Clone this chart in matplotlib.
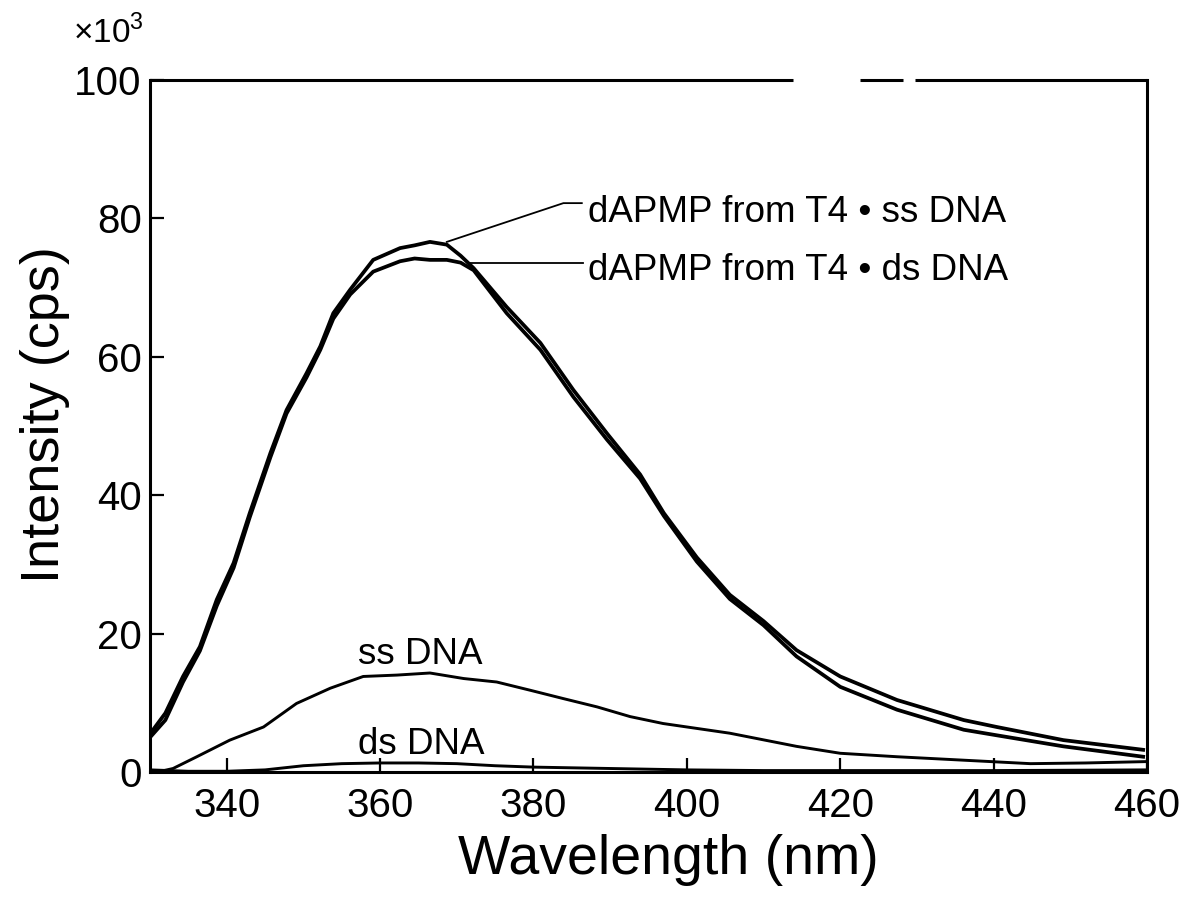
import matplotlib
matplotlib.use("Agg")
import matplotlib.pyplot as plt

plt.rcParams['font.family'] = ['Liberation Sans', 'DejaVu Sans']
plt.rcParams['mathtext.fontset'] = 'custom'
plt.rcParams['mathtext.rm'] = 'Liberation Sans'

# ---- data (intensity in units of 10^3 cps) ----
wl_complex = [330, 332, 334.3, 336.5, 338.7, 340.9, 343, 345.7, 347.8, 350.4, 352.2,
              353.9, 356.1, 359.1, 362.6, 364.5, 366.5, 368.7, 370.5, 372.2, 376.5,
              380.9, 385.2, 389.6, 393.9, 397, 401.3, 405.6, 410, 414.3, 420, 427.4,
              436.1, 440.4, 449.1, 459.5]
ss_complex = [5.5, 8.5, 13.8, 18.1, 24.9, 30.2, 37.4, 46.1, 52.3, 57.6, 61.5,
              66.3, 69.7, 74.0, 75.7, 76.1, 76.6, 76.2, 74.6, 72.8, 67.2,
              62.0, 55.2, 48.9, 43.0, 37.4, 31.0, 25.6, 21.8, 17.6, 13.8, 10.4,
              7.5, 6.5, 4.6, 3.2]
ds_complex = [5.0, 7.5, 13.0, 17.5, 24.0, 29.5, 36.8, 45.5, 51.8, 57.0, 61.0,
              65.5, 69.0, 72.3, 73.8, 74.2, 74.0, 74.0, 73.6, 72.5, 66.3,
              61.0, 54.2, 48.0, 42.4, 37.0, 30.4, 25.0, 21.2, 16.7, 12.3, 9.0,
              6.1, 5.3, 3.7, 2.2]

wl_ssdna = [331, 333, 336.1, 340.4, 344.8, 349.1, 353.5, 357.8, 362.2, 366.5, 370.9,
            375.2, 379.6, 383.9, 388.3, 392.6, 396.9, 405.6, 414.3, 420, 427.4,
            436.1, 444.8, 452, 460]
ss_dna = [0.0, 0.5, 2.2, 4.6, 6.5, 9.9, 12.1, 13.8, 14.0, 14.3, 13.5,
          13.0, 11.8, 10.6, 9.4, 8.0, 7.0, 5.6, 3.7, 2.7, 2.2,
          1.7, 1.2, 1.3, 1.5]

wl_dsdna = [330, 335, 340, 345, 350, 355, 360, 365, 370, 375, 380, 385, 390, 400,
            410, 420, 440, 460]
ds_dna = [0.3, 0.1, 0.1, 0.3, 0.9, 1.2, 1.3, 1.3, 1.2, 0.9, 0.7, 0.6, 0.5, 0.3,
          0.2, 0.2, 0.2, 0.3]

x_ticks = [340, 360, 380, 400, 420, 440, 460]
y_ticks = [0, 20, 40, 60, 80, 100]
y_ticklabels = ['0', '20', '40', '60', '80', '100']

label_ss_complex = 'dAPMP from T4 \u2022 ss DNA'
label_ds_complex = 'dAPMP from T4 \u2022 ds DNA'

# ---- figure ----
fig = plt.figure(figsize=(11.87, 9.19), dpi=100)
ax = fig.add_axes([0.1264, 0.160, 0.8399, 0.753])

lw = 2.7
ax.plot(wl_complex, ss_complex, color='black', lw=lw)
ax.plot(wl_complex, ds_complex, color='black', lw=lw)
ax.plot(wl_ssdna, ss_dna, color='black', lw=2.1)
ax.plot(wl_dsdna, ds_dna, color='black', lw=2.1)

ax.set_xlim(330, 460)
ax.set_ylim(0, 100)
ax.set_xticks(x_ticks)
ax.set_xticklabels([str(v) for v in x_ticks])
ax.set_yticks(y_ticks)
ax.set_yticklabels(y_ticklabels)
ax.tick_params(axis='both', direction='in', length=10, width=1.6, labelsize=29,
               colors='black')
ax.tick_params(axis='x', pad=11)
ax.tick_params(axis='y', pad=6)

for s in ['left', 'right', 'bottom']:
    ax.spines[s].set_linewidth(2.2)
ax.spines['top'].set_visible(False)
# top border with the gaps of the original scan
for x0, x1 in [(0.0, 0.645), (0.712, 0.755), (0.767, 1.0)]:
    ax.plot([x0, x1], [1.0, 1.0], transform=ax.transAxes, color='black',
            lw=2.2, clip_on=False, solid_capstyle='butt')

ax.set_xlabel('Wavelength (nm)', fontsize=40, va='center')
ax.xaxis.set_label_coords(0.52, -0.127)
ax.set_ylabel('Intensity (cps)', fontsize=39, va='center')
ax.yaxis.set_label_coords(-0.105, 0.516)

fig.text(73 / 1187, 1 - 43 / 919, '\u00d710$^{3}$', fontsize=24,
         ha='left', va='baseline')

# annotations
ax.plot([368.7, 383.9, 386.3], [76.6, 82.2, 82.2], color='black', lw=1.3)
ax.plot([371.7, 386.5], [73.6, 73.6], color='black', lw=1.3)
ax.text(387.1, 80.9, label_ss_complex, fontsize=26.5, ha='left', va='center')
ax.text(387.1, 72.5, label_ds_complex, fontsize=26.5, ha='left', va='center')
ax.text(365.2, 17.0, 'ss DNA', fontsize=26.5, ha='center', va='center')
ax.text(365.3, 4.0, 'ds DNA', fontsize=26.5, ha='center', va='center')

fig.savefig('out.png', dpi=100, facecolor='white')
